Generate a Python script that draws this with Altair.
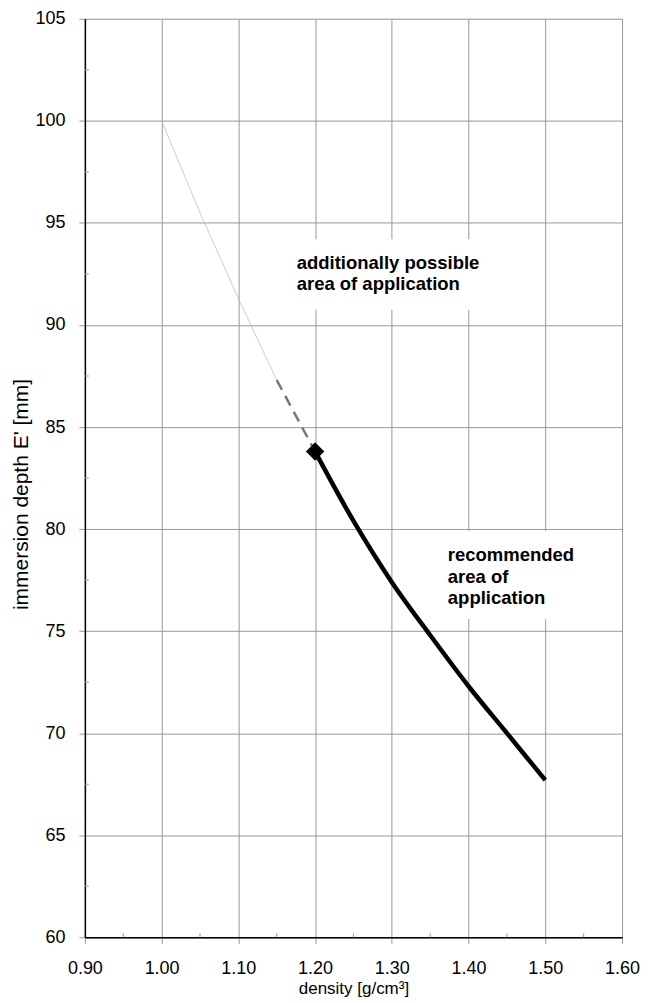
import altair as alt
import pandas as pd

# --- data ---
thin_x = [1.00, 1.05, 1.10, 1.15]
thin_y = [100.0, 95.5, 91.3, 87.3]

dash_x = [1.15, 1.20]
dash_y = [87.3, 83.8]

rec_x = [1.20, 1.25, 1.30, 1.35, 1.40, 1.45, 1.50]
rec_y = [83.8, 80.4, 77.4, 74.8, 72.3, 70.0, 67.7]

marker_x = [1.20]
marker_y = [83.8]

x_ticks = [0.90, 1.00, 1.10, 1.20, 1.30, 1.40, 1.50, 1.60]
y_ticks = [60, 65, 70, 75, 80, 85, 90, 95, 100, 105]
minor_x = [0.95, 1.05, 1.15, 1.25, 1.35, 1.45, 1.55]
minor_y = [62.5, 67.5, 72.5, 77.5, 82.5, 87.5, 92.5, 97.5, 102.5]

note1_lines = ["additionally possible", "area of application"]
note1_x = 1.176
note1_y = [93.05, 92.0]
note1_box = dict(x=1.165, x2=1.425, y=94.2, y2=90.75)

note2_lines = ["recommended", "area of", "application"]
note2_x = 1.373
note2_y = [78.75, 77.67, 76.6]
note2_box = dict(x=1.362, x2=1.56, y=79.9, y2=75.6)

GRID = "#999999"
FONT = "Liberation Sans"

W, H = 538, 920

xscale = alt.Scale(domain=[0.9, 1.6], nice=False, zero=False)
yscale = alt.Scale(domain=[60, 105], nice=False, zero=False)

xaxis = alt.Axis(values=x_ticks, format=".2f", grid=True, gridColor=GRID, gridWidth=1,
                 tickColor=GRID, tickSize=6, domainColor="black", domainWidth=1.5,
                 labelFont=FONT, labelFontSize=18, labelColor="black", labelPadding=16,
                 labelFlush=False, labelOverlap=False,
                 title="density [g/cm³]", titleFont=FONT, titleFontSize=17,
                 titleFontWeight="normal", titleColor="black", titlePadding=3)
yaxis = alt.Axis(values=y_ticks, format="d", grid=True, gridColor=GRID, gridWidth=1,
                 tickColor=GRID, tickSize=6, domainColor="black", domainWidth=1.5,
                 labelFont=FONT, labelFontSize=18, labelColor="black", labelPadding=14,
                 labelFlush=False, labelOverlap=False,
                 title="immersion depth E' [mm]", titleFont=FONT, titleFontSize=21,
                 titleFontWeight="normal", titleColor="black", titlePadding=3,
                 titleY=476)

thin_df = pd.DataFrame({"x": thin_x, "y": thin_y})
dash_df = pd.DataFrame({"x": dash_x, "y": dash_y})
rec_df = pd.DataFrame({"x": rec_x, "y": rec_y})
mk_df = pd.DataFrame({"x": marker_x, "y": marker_y})
boxes_df = pd.DataFrame([note1_box, note2_box])
texts_df = pd.DataFrame({
    "t": note1_lines + note2_lines,
    "x": [note1_x] * len(note1_lines) + [note2_x] * len(note2_lines),
    "y": note1_y + note2_y,
})
mx_df = pd.DataFrame({"x": minor_x})
my_df = pd.DataFrame({"y": minor_y})

base_axes = alt.Chart(thin_df).mark_line(color="#b5b5b5", strokeWidth=0.7).encode(
    x=alt.X("x:Q", scale=xscale, axis=xaxis),
    y=alt.Y("y:Q", scale=yscale, axis=yaxis),
)

boxes = alt.Chart(boxes_df).mark_rect(color="white").encode(
    x=alt.X("x:Q", scale=xscale), x2="x2:Q",
    y=alt.Y("y:Q", scale=yscale), y2="y2:Q",
)

minor_xt = alt.Chart(mx_df).mark_rule(color=GRID, strokeWidth=1).encode(
    x=alt.X("x:Q", scale=xscale), y=alt.value(H), y2=alt.value(H - 4),
)
minor_yt = alt.Chart(my_df).mark_rule(color=GRID, strokeWidth=1).encode(
    y=alt.Y("y:Q", scale=yscale), x=alt.value(0), x2=alt.value(4),
)

dash = alt.Chart(dash_df).mark_line(color="#777777", strokeWidth=2.5, strokeDash=[11, 7]).encode(
    x=alt.X("x:Q", scale=xscale), y=alt.Y("y:Q", scale=yscale),
)

rec = alt.Chart(rec_df).mark_line(color="black", strokeWidth=4.5, interpolate="monotone").encode(
    x=alt.X("x:Q", scale=xscale), y=alt.Y("y:Q", scale=yscale),
)

marker = alt.Chart(mk_df).mark_point(shape="diamond", filled=True, color="black", size=340, opacity=1).encode(
    x=alt.X("x:Q", scale=xscale), y=alt.Y("y:Q", scale=yscale),
)

texts = alt.Chart(texts_df).mark_text(align="left", baseline="middle", font=FONT,
                                      fontSize=18.5, fontWeight="bold", color="black").encode(
    x=alt.X("x:Q", scale=xscale), y=alt.Y("y:Q", scale=yscale), text="t:N",
)

chart = alt.layer(base_axes, boxes, minor_xt, minor_yt, dash, rec, marker, texts).properties(
    width=W, height=H,
    autosize=alt.AutoSizeParams(type="none"),
    padding={"left": 77, "top": 10, "right": 25, "bottom": 65},
).configure_view(stroke=None).configure(background="white")

chart.save("out.html", embed_options={"renderer": "svg", "actions": False})
